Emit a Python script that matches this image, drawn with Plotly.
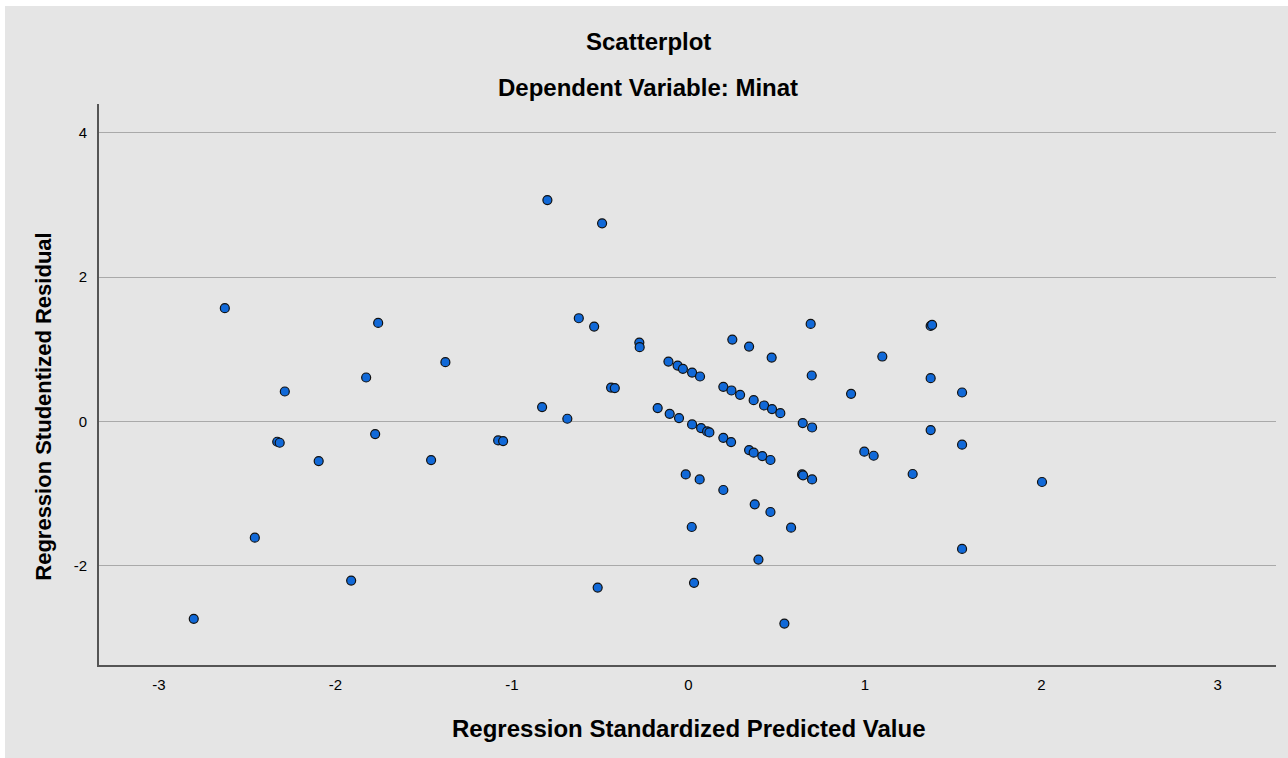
import plotly.graph_objects as go

# Regression Standardized Predicted Value
x_pred = [
    -2.627, -1.758, -1.377, -1.826, -2.287, -2.330, -2.316, -1.775, -2.095, -1.458,
    -2.457, -1.911, -2.803, -1.078, -1.050,
    -0.799, -0.489, -0.621, -0.534, -0.278, -0.276, -0.438, -0.417, -0.829, -0.686,
    -0.514,
    0.693, 0.249, 0.344, 0.472, 0.699,
    -0.113, -0.061, -0.031, 0.021, 0.066,
    0.198, 0.244, 0.293, 0.370, 0.429, 0.474, 0.521,
    -0.174, -0.106, -0.053,
    0.021, 0.072, 0.106, 0.119,
    0.198, 0.242,
    0.344, 0.370, 0.419, 0.465,
    0.648, 0.701,
    -0.015, 0.064, 0.198, 0.376, 0.465, 0.019, 0.582, 0.397, 0.032, 0.544,
    0.644, 0.650, 0.701,
    1.373, 1.381, 1.099, 1.373, 0.922, 1.551, 1.373, 1.551, 0.997, 1.050,
    1.271, 1.551, 2.004,
]

# Regression Studentized Residual
y_resid = [
    1.568, 1.364, 0.820, 0.607, 0.413, -0.284, -0.298, -0.178, -0.552, -0.538,
    -1.614, -2.209, -2.740, -0.266, -0.274,
    3.068, 2.745, 1.429, 1.313, 1.091, 1.028, 0.468, 0.460, 0.197, 0.035,
    -2.306,
    1.350, 1.133, 1.036, 0.884, 0.635,
    0.828, 0.773, 0.727, 0.676, 0.621,
    0.478, 0.427, 0.367, 0.293, 0.219, 0.169, 0.113,
    0.183, 0.104, 0.044,
    -0.044, -0.094, -0.141, -0.155,
    -0.229, -0.288,
    -0.399, -0.436, -0.482, -0.537,
    -0.025, -0.086,
    -0.737, -0.806, -0.953, -1.152, -1.258, -1.466, -1.475, -1.918, -2.241, -2.805,
    -0.737, -0.750, -0.806,
    1.323, 1.336, 0.898, 0.598, 0.381, 0.399, -0.122, -0.325, -0.422, -0.478,
    -0.731, -1.770, -0.842,
]

x_ticks = [-3, -2, -1, 0, 1, 2, 3]
y_ticks = [-2, 0, 2, 4]

W, H = 1288, 758
L, R, T, B = 99, 1276, 104, 665.5
BG = "#E5E5E5"
FONT = "Liberation Sans, Arial, sans-serif"


def px(xp):
    return (xp - L) / (R - L)


def py(yp):
    return (B - yp) / (B - T)


fig = go.Figure()
fig.add_trace(go.Scatter(
    x=x_pred, y=y_resid, mode="markers",
    marker=dict(size=9, color="#1169D8", line=dict(color="#111111", width=1.2)),
    showlegend=False, hoverinfo="x+y",
))

fig.update_layout(
    width=W, height=H,
    margin=dict(l=L, r=W - R, t=T, b=H - B, pad=0),
    paper_bgcolor=BG, plot_bgcolor=BG,
    font=dict(family=FONT, color="#000000"),
    xaxis=dict(
        range=[-3.34, 3.33], tickvals=x_ticks, ticktext=[str(v) for v in x_ticks],
        showgrid=False, zeroline=False, showline=True, linecolor="#555555", linewidth=2,
        ticks="outside", ticklen=5, tickcolor=BG, tickfont=dict(size=15, color="#000000"),
        fixedrange=True,
    ),
    yaxis=dict(
        range=[-3.38, 4.40], tickvals=y_ticks, ticktext=[str(v) for v in y_ticks],
        showgrid=True, gridcolor="#A9A9A9", gridwidth=1.3,
        zeroline=False, showline=True, linecolor="#555555", linewidth=2,
        ticks="outside", ticklen=7, tickcolor=BG, tickfont=dict(size=15, color="#000000"),
        fixedrange=True,
    ),
)

annots = [
    dict(text="<b>Scatterplot</b>", x=px(648), y=py(41), size=24, angle=0),
    dict(text="<b>Dependent Variable: Minat</b>", x=px(648), y=py(87), size=24, angle=0),
    dict(text="<b>Regression Standardized Predicted Value</b>", x=px(688), y=py(729), size=24, angle=0),
    dict(text="<b>Regression Studentized Residual</b>", x=px(44), y=py(407), size=22, angle=-90),
]
for a in annots:
    fig.add_annotation(
        text=a["text"], x=a["x"], y=a["y"], xref="paper", yref="paper",
        xanchor="center", yanchor="middle", showarrow=False, textangle=a["angle"],
        font=dict(family=FONT, size=a["size"], color="#000000"),
    )

# white border strips at top and left (as in the reference image)
fig.add_shape(type="rect", xref="paper", yref="paper",
              x0=px(-20), x1=px(W + 20), y0=py(6), y1=py(-20),
              fillcolor="#FFFFFF", line=dict(width=0), layer="above")
fig.add_shape(type="rect", xref="paper", yref="paper",
              x0=px(-20), x1=px(5), y0=py(H + 20), y1=py(-20),
              fillcolor="#FFFFFF", line=dict(width=0), layer="above")

fig.write_html(
    "out.html",
    config={"displayModeBar": False},
    post_script="document.body.style.margin='0';document.body.style.overflow='hidden';",
)
